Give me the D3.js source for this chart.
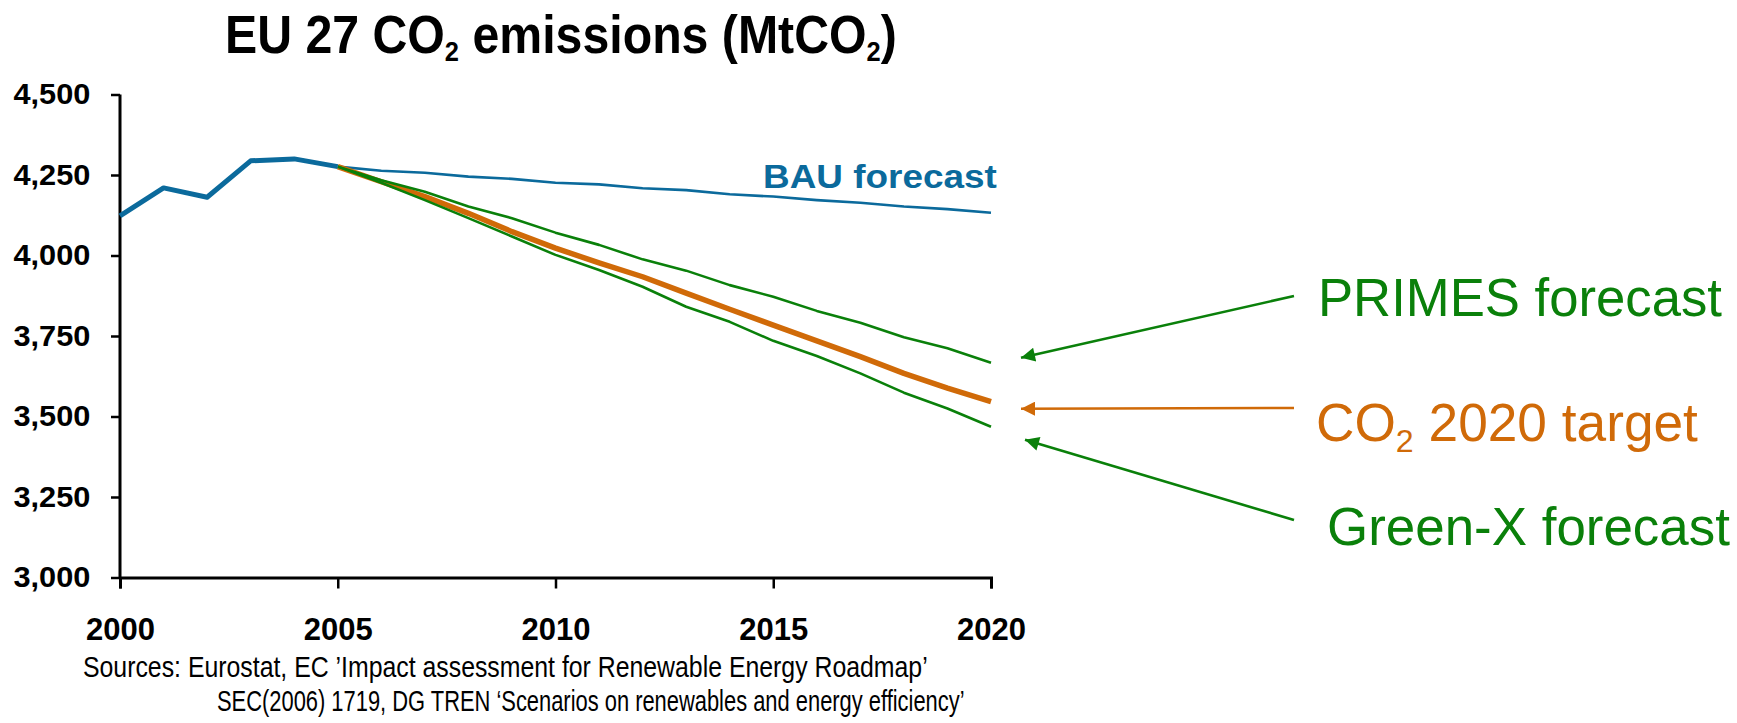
<!DOCTYPE html>
<html>
<head>
<meta charset="utf-8">
<script src="https://cdn.jsdelivr.net/npm/d3@7/dist/d3.min.js"></script>
<style>
	body { margin: 0; background: #fff; }
	svg { display: block; font-family: "Liberation Sans", Arial, sans-serif; }
</style>
</head>
<body>
<svg id="chart" width="1737" height="723"></svg>
<script>
// --------- Data --------- //
var histYears = [2000, 2001, 2002, 2003, 2004, 2005];
var histValues = [4123, 4210, 4181, 4294, 4300, 4276];

var fcYears = [2005, 2006, 2007, 2008, 2009, 2010, 2011, 2012, 2013, 2014, 2015, 2016, 2017, 2018, 2019, 2020];
var bauValues = [4276, 4263, 4257, 4245, 4238, 4226, 4221, 4209, 4203, 4190, 4183, 4172, 4164, 4152, 4144, 4133];
var primesValues = [4276, 4234, 4198, 4152, 4116, 4071, 4033, 3988, 3953, 3908, 3872, 3828, 3791, 3746, 3712, 3667];
var targetValues = [4276, 4229, 4183, 4131, 4074, 4023, 3977, 3934, 3883, 3833, 3784, 3735, 3686, 3634, 3588, 3546];
var greenxValues = [4276, 4226, 4172, 4116, 4059, 4002, 3955, 3903, 3841, 3794, 3735, 3688, 3634, 3574, 3525, 3468];

var yTicks = [3000, 3250, 3500, 3750, 4000, 4250, 4500];
var xTicks = [2000, 2005, 2010, 2015, 2020];

var sourceLines = [
	"Sources: Eurostat, EC \u2019Impact assessment for Renewable Energy Roadmap\u2019",
	"SEC(2006) 1719, DG TREN \u2018Scenarios on renewables and energy efficiency\u2019"
];
// --------- /Data --------- //

var BLUE = "#0b6a9c", ORANGE = "#d06a08", GREEN = "#0a800a";

var svg = d3.select("#chart");
svg.append("rect").attr("width", 1737).attr("height", 723).attr("fill", "#fff");

var x = d3.scaleLinear().domain([2000, 2020]).range([120, 991]);
var y = d3.scaleLinear().domain([3000, 4500]).range([577.5, 94.5]);

// stretch a text element horizontally so it fills the wanted width (anchor = left x)
function fitWidth(sel, left, width){
	var w = sel.node().getComputedTextLength();
	var k = width / w;
	sel.attr("transform", "translate(" + left + ",0) scale(" + k + ",1) translate(" + (-left) + ",0)");
}

// --------- Title --------- //
var title = svg.append("text")
	.attr("x", 225).attr("y", 53)
	.attr("font-size", 53).attr("font-weight", "bold").attr("fill", "#000");
title.append("tspan").text("EU 27 CO");
title.append("tspan").attr("font-size", 28).attr("dy", 8).text("2");
title.append("tspan").attr("dy", -8).text(" emissions (MtCO");
title.append("tspan").attr("font-size", 28).attr("dy", 8).text("2");
title.append("tspan").attr("dy", -8).text(")");
fitWidth(title, 225, 672);

// --------- Axes --------- //
var yAxis = svg.append("g")
	.attr("transform", "translate(" + x(2000) + ",0)")
	.call(d3.axisLeft(y).tickValues(yTicks).tickSize(9).tickPadding(19).tickFormat(d3.format(",")));

var xAxis = svg.append("g")
	.attr("transform", "translate(0," + y(3000) + ")")
	.call(d3.axisBottom(x).tickValues(xTicks).tickSize(11).tickPadding(29).tickFormat(d3.format("d")));

[yAxis, xAxis].forEach(function(g){
	g.select(".domain").attr("stroke", "#000").attr("stroke-width", 3);
	g.selectAll(".tick line").attr("stroke", "#000").attr("stroke-width", 2.5);
	g.selectAll(".tick text")
		.attr("font-family", "'Liberation Sans', Arial, sans-serif")
		.attr("font-weight", "bold").attr("fill", "#000");
});
yAxis.select(".domain").attr("d", "M0," + y(4500) + "V" + y(3000));
yAxis.selectAll(".tick text").attr("font-size", 29).attr("transform", "scale(1.06,1)");
xAxis.selectAll(".tick text").attr("font-size", 31);

// --------- Lines --------- //
var line = d3.line()
	.x(function(d){ return x(d[0]); })
	.y(function(d){ return y(d[1]); });

function drawSeries(years, values, color, width){
	svg.append("path")
		.datum(d3.zip(years, values))
		.attr("d", line)
		.attr("fill", "none")
		.attr("stroke", color)
		.attr("stroke-width", width)
		.attr("stroke-linejoin", "round")
		.attr("stroke-linecap", "butt");
}

drawSeries(fcYears, bauValues, BLUE, 2.6);
drawSeries(fcYears, targetValues, ORANGE, 5.5);
drawSeries(fcYears, primesValues, GREEN, 2.6);
drawSeries(fcYears, greenxValues, GREEN, 2.6);
drawSeries(histYears, histValues, BLUE, 5);

// --------- Labels & arrows --------- //
var bau = svg.append("text")
	.attr("x", 763).attr("y", 188)
	.attr("font-size", 34).attr("font-weight", "bold").attr("fill", BLUE)
	.text("BAU forecast");
fitWidth(bau, 763, 234);

var defs = svg.append("defs");
[["arrGreen", GREEN], ["arrOrange", ORANGE]].forEach(function(m){
	defs.append("marker")
		.attr("id", m[0])
		.attr("viewBox", "0 0 10 10")
		.attr("refX", 10).attr("refY", 5)
		.attr("markerUnits", "userSpaceOnUse")
		.attr("markerWidth", 17).attr("markerHeight", 14)
		.attr("orient", "auto")
		.append("path").attr("d", "M0,0L10,5L0,10Z").attr("fill", m[1]);
});

var xEnd = x(2020);
var notes = [
	{ text: ["PRIMES forecast"], color: GREEN, marker: "arrGreen",
		tip: [xEnd + 30, y(primesValues[15]) - 5], from: [1294, 296], left: 1318, base: 316, width: 404 },
	{ text: ["CO", "2", " 2020 target"], color: ORANGE, marker: "arrOrange",
		tip: [xEnd + 30, y(targetValues[15]) + 7], from: [1294, 408], left: 1316, base: 441, width: 382 },
	{ text: ["Green-X forecast"], color: GREEN, marker: "arrGreen",
		tip: [xEnd + 34, y(greenxValues[15]) + 13], from: [1294, 520], left: 1327, base: 545, width: 403 }
];

notes.forEach(function(n){
	svg.append("line")
		.attr("x1", n.from[0]).attr("y1", n.from[1])
		.attr("x2", n.tip[0]).attr("y2", n.tip[1])
		.attr("stroke", n.color).attr("stroke-width", 2.6)
		.attr("marker-end", "url(#" + n.marker + ")");

	var t = svg.append("text")
		.attr("x", n.left).attr("y", n.base)
		.attr("font-size", 53).attr("fill", n.color);
	if (n.text.length === 1){
		t.text(n.text[0]);
	}else{
		t.append("tspan").text(n.text[0]);
		t.append("tspan").attr("font-size", 32).attr("dy", 11).text(n.text[1]);
		t.append("tspan").attr("dy", -11).text(n.text[2]);
	}
	fitWidth(t, n.left, n.width);
});

// --------- Sources --------- //
var src1 = svg.append("text").attr("x", 83).attr("y", 677)
	.attr("font-size", 30).attr("fill", "#000").text(sourceLines[0]);
fitWidth(src1, 83, 845);
var src2 = svg.append("text").attr("x", 217).attr("y", 711)
	.attr("font-size", 30).attr("fill", "#000").text(sourceLines[1]);
fitWidth(src2, 217, 748);
</script>
</body>
</html>
